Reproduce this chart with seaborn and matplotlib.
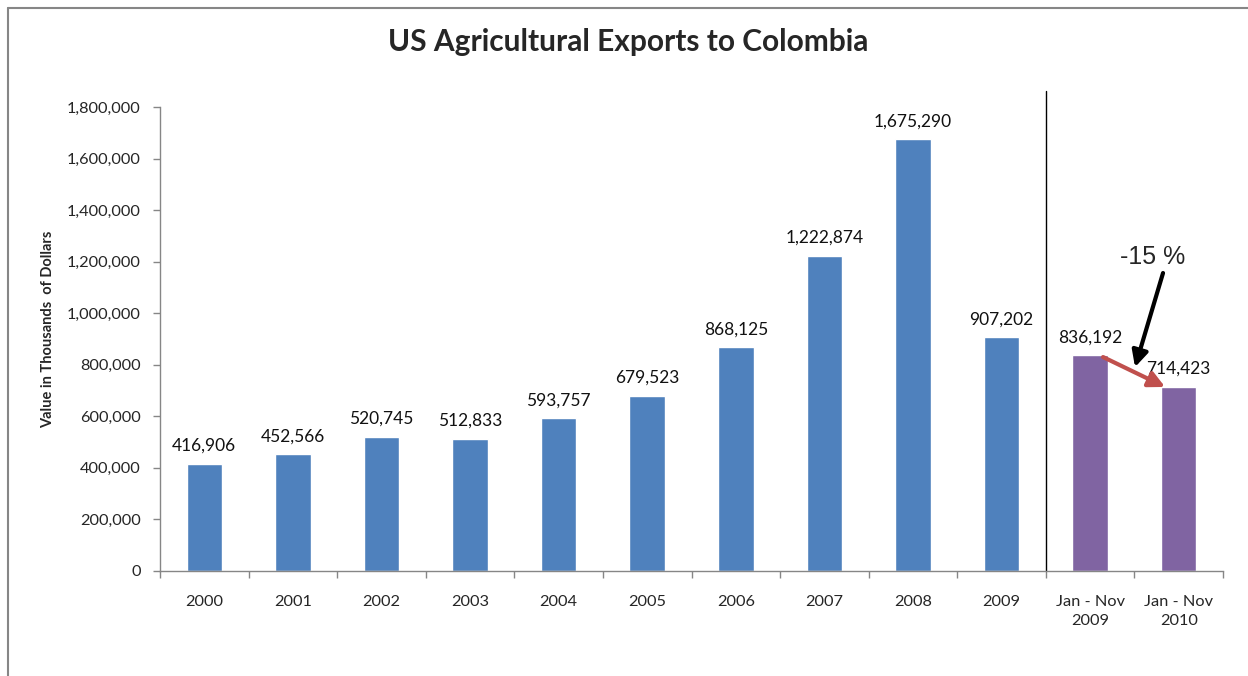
import matplotlib
matplotlib.use("Agg")
import matplotlib.pyplot as plt
import seaborn as sns
import pandas as pd
from matplotlib.lines import Line2D

categories = ["2000", "2001", "2002", "2003", "2004", "2005", "2006", "2007",
              "2008", "2009", "Jan - Nov\n2009", "Jan - Nov\n2010"]
values = [416906, 452566, 520745, 512833, 593757, 679523, 868125, 1222874,
          1675290, 907202, 836192, 714423]
bar_colors = ["#4F81BD"] * 10 + ["#8064A2"] * 2
y_ticks = [0, 200000, 400000, 600000, 800000, 1000000, 1200000, 1400000,
           1600000, 1800000]

sns.set_theme(style="white")
plt.rcParams['font.family'] = ['Lato', 'DejaVu Sans']

df = pd.DataFrame({"cat": categories, "val": values})

fig = plt.figure(figsize=(12.48, 6.76), dpi=100)
ax = fig.add_axes([160/1248, 1-571/676, (1223-160)/1248, (571-107)/676])

sns.barplot(data=df, x="cat", y="val", hue="cat", palette=bar_colors,
            legend=False, width=0.4, ax=ax, saturation=1)

ax.set_xlim(-0.5, len(categories) - 0.5)
ax.set_ylim(0, 1800000)
ax.set_yticks(y_ticks)
ax.set_yticklabels([f"{v:,}" for v in y_ticks], fontsize=11.8)
ax.set_xticks(range(len(categories)))
ax.set_xticklabels(categories, fontsize=11.8, linespacing=1.45)
ax.set_xticks([i - 0.5 for i in range(len(categories) + 1)], minor=True)
ax.tick_params(axis='x', which='major', length=0, pad=17)
ax.tick_params(axis='x', which='minor', length=5, width=1, color="#868686",
               direction='out', bottom=True)
ax.tick_params(axis='y', length=5, width=1, color="#868686", direction='out',
               left=True, pad=9)
for lbl in ax.get_xticklabels():
    lbl.set_verticalalignment('top')

for s in ["top", "right"]:
    ax.spines[s].set_visible(False)
for s in ["left", "bottom"]:
    ax.spines[s].set_color("#868686")
    ax.spines[s].set_linewidth(1)

ax.set_xlabel("")
ax.set_ylabel("Value in Thousands  of Dollars", fontsize=10.5, fontweight="bold")
ax.yaxis.set_label_coords(-0.099, 0.52)

for i, v in enumerate(values):
    ax.annotate(f"{v:,}", (i, v), xytext=(0, 7), textcoords="offset points",
                ha="center", va="bottom", fontsize=12.5, color="#111111")

# separator line between annual data and Jan-Nov comparison
ax.axvline(9.5, ymin=0, ymax=480/464, color="black", lw=1, clip_on=False)

# annotation arrows
ax.annotate("", xy=(10.507, 791000), xytext=(10.823, 1156000),
            arrowprops=dict(arrowstyle="-|>,head_length=0.8,head_width=0.4",
                            color="black", lw=3, shrinkA=0, shrinkB=0))
ax.annotate("", xy=(10.846, 714000), xytext=(10.146, 830000),
            arrowprops=dict(arrowstyle="-|>,head_length=0.8,head_width=0.4",
                            color="#C0504D", lw=3, shrinkA=0, shrinkB=0))
ax.text(10.71, 1218000, "-15 %", fontsize=18, ha="center", va="center",
        family=["Liberation Sans", "DejaVu Sans"])

fig.text(628/1248, 1-42/676, "US Agricultural Exports to Colombia",
         fontsize=21.5, fontweight="bold", ha="center", va="center")

# chart frame
fig.add_artist(Line2D([8/1248, 8/1248], [0, 1-8/676], transform=fig.transFigure,
                      color="#868686", lw=1.5))
fig.add_artist(Line2D([8/1248, 1], [1-8/676, 1-8/676], transform=fig.transFigure,
                      color="#868686", lw=1.5))

fig.savefig("out.png", dpi=100)
